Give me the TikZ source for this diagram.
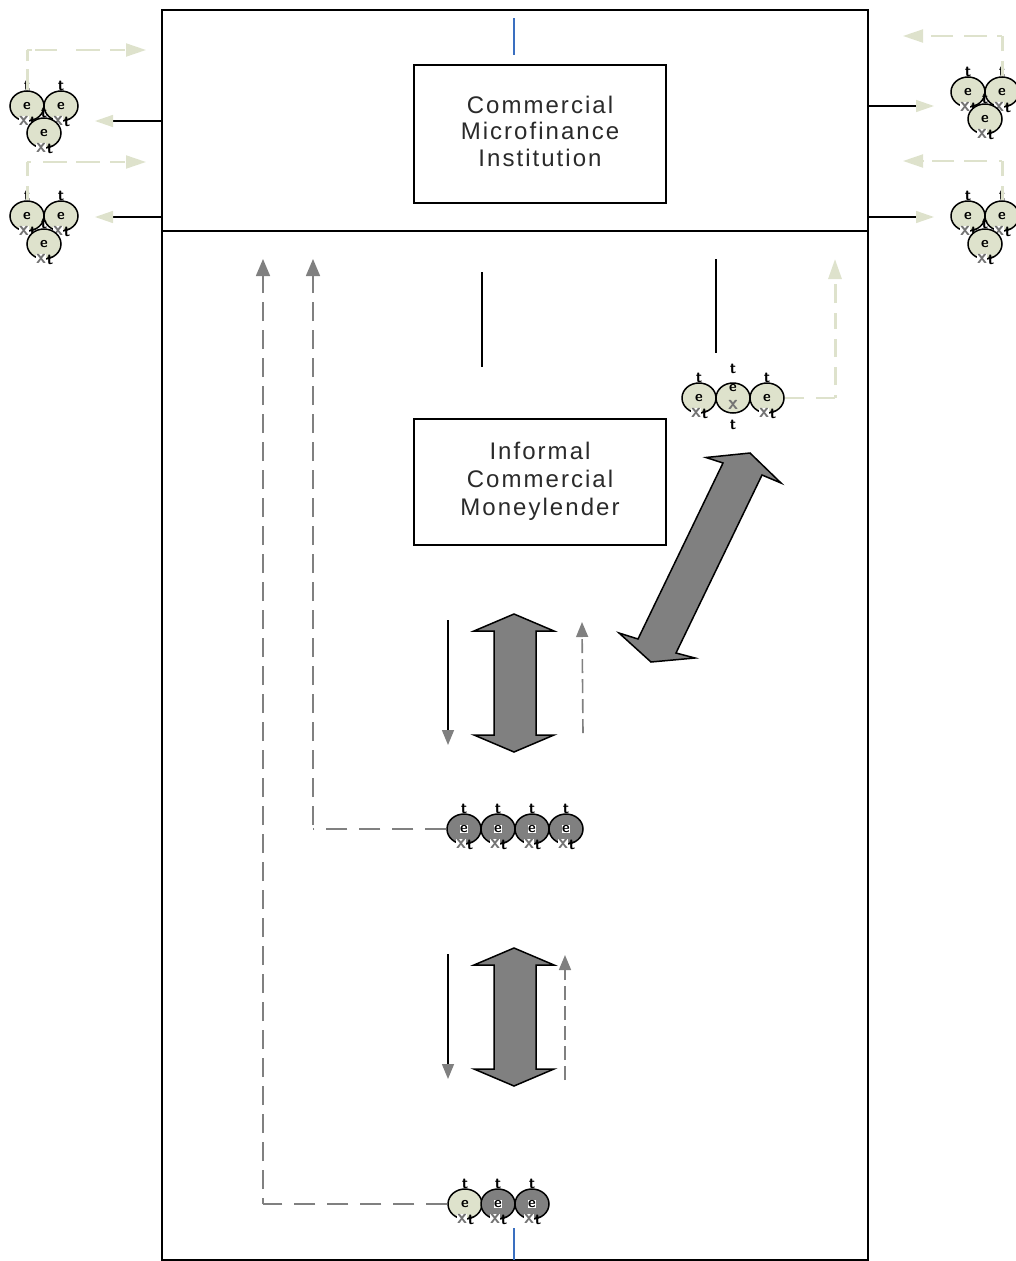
\documentclass[tikz,border=0pt]{standalone}
\usepackage{fontspec}
\setmainfont{Liberation Sans}
\newfontfamily\boxfont[LetterSpace=8.5]{Liberation Sans}
\usetikzlibrary{arrows.meta,shapes.geometric,calc}
\definecolor{pale}{HTML}{DEE2CC}
\definecolor{midgray}{HTML}{808080}
\definecolor{blueline}{HTML}{3A6FC0}
\definecolor{boxtext}{HTML}{2A2A2A}
\tikzset{
  x=1pt,y=-1pt,
  framebox/.style={draw=black,line width=1.7pt,fill=none,minimum width=706pt,anchor=north west,inner sep=0,outer sep=0},
  labelbox/.style={draw=black,line width=1.5pt,fill=white,inner sep=0},
  labeltext/.style={inner sep=0,align=center,text=boxtext,font=\boxfont\fontsize{24}{#1}\selectfont},
  wire/.style={draw=black,line width=1.5pt},
  palehead/.style={-{Triangle[length=18pt,width=12pt,color=pale]}},
  grayhead/.style={-{Triangle[length=15pt,width=12pt,color=midgray]}},
  palev/.style={draw=pale,line width=3pt},
  paleh/.style={draw=pale,line width=2pt},
  palearrow/.style={-{Triangle[length=20pt,width=13pt,color=pale]}},
  grayv/.style={draw=midgray,line width=1.6pt,dash pattern=on 19pt off 9pt,-{Triangle[length=17pt,width=14pt,color=midgray]}},
  grayh/.style={draw=midgray,line width=1.6pt,dash pattern=on 21pt off 12pt},
  grayshort/.style={draw=midgray,line width=1.6pt,dash pattern=on 14pt off 6pt,-{Triangle[length=15pt,width=12pt,color=midgray]}},
  blue/.style={draw=blueline,line width=1.2pt},
  person/.style={draw=black,line width=1.5pt,ellipse,minimum width=34pt,minimum height=30pt,inner sep=0,font=\sffamily\bfseries\fontsize{15}{15}\selectfont},
  glyph/.style={inner sep=0,font=\sffamily\bfseries\fontsize{16}{16}\selectfont},
  glyphx/.style={inner sep=0,text=black!55,fill=white,font=\sffamily\bfseries\fontsize{20}{20}\selectfont},
  bigarrow/.style={draw=black,line width=1.5pt,fill=midgray,line join=miter},
}
\newcommand{\agentbase}[5]{%
  \node[glyph] at ($(#2,#3)+(0,-20)$) {t};
  \node[person,fill=#4] (#1) at (#2,#3) {#5};
  \node[glyphx] at ($(#2,#3)+(-3,15)$) {x};
  \node[glyph] at ($(#2,#3)+(6,16)$) {t};
}
\newcommand{\agent}[4]{\agentbase{#1}{#2}{#3}{#4}{e}}
\newcommand{\darkagent}[3]{\agentbase{#1}{#2}{#3}{midgray}{\setlength{\fboxsep}{0pt}\colorbox{white}{e}}}
\newcommand{\vbig}[1]{%
  \draw[bigarrow,shift={(514,#1)}] (0,1) -- (40,18) -- (22,18) -- (22,122) -- (40,122) -- (0,139) -- (-40,122) -- (-20,122) -- (-20,18) -- (-40,18) -- cycle;
}
\begin{document}
\begin{tikzpicture}
\useasboundingbox (0,0) rectangle (1016,1261);
% frame
\node[framebox,minimum height=221pt] (upper) at (162,10) {};
\node[framebox,minimum height=1029pt] (lower) at (162,231) {};
% blue ticks
\coordinate (bt1) at (514,18); \coordinate (bt2) at (514,55);
\coordinate (bb1) at (514,1228); \coordinate (bb2) at (514,1260);
\draw[blue] (bt1) -- (bt2);
\draw[blue] (bb1) -- (bb2);
% boxes
\node[labelbox,minimum width=252pt,minimum height=138pt,label={[labeltext=26.5,yshift=3pt]center:Commercial\\Microfinance\\Institution}] (cmi) at (540,134) {};
\node[labelbox,minimum width=252pt,minimum height=126pt,label={[labeltext=28,yshift=1pt]center:Informal\\Commercial\\Moneylender}] (icm) at (540,482) {};
% left groups
\agent{la}{27}{106}{pale} \agent{lb}{61}{106}{pale} \agent{lc}{44}{133}{pale}
\agent{ld}{27}{216}{pale} \agent{le}{61}{216}{pale} \agent{lf}{44}{244}{pale}
% right groups
\agent{ra}{968}{92}{pale} \agent{rb}{1002}{92}{pale} \agent{rc}{985}{119}{pale}
\agent{rd}{968}{216}{pale} \agent{re}{1002}{216}{pale} \agent{rf}{985}{244}{pale}
% middle group
\agent{ma}{699}{398}{pale}
\node[glyph] at (733,369) {t};
\node[glyph] at (733,425) {t};
\node[person,fill=pale] (mb) at (733,398) {};
\node[glyph,font=\sffamily\bfseries\fontsize{15}{15}\selectfont] at (733,388) {e};
\node[glyphx,fill=none] at (733,405) {x};
\agent{mc}{767}{398}{pale}
% dark rows
\darkagent{da}{464}{829} \darkagent{db}{498}{829} \darkagent{dc}{532}{829} \darkagent{dd}{566}{829}
\agent{ea}{465}{1204}{pale} \darkagent{eb}{498}{1204} \darkagent{ec}{532}{1204}
% solid pale-headed connectors
\coordinate (w1) at (95,121); \coordinate (w2) at (95,217);
\coordinate (w3) at (934,106); \coordinate (w4) at (934,217);
\draw[wire,palehead] (upper.west |- w1) -- (w1);
\draw[wire,palehead] (upper.west |- w2) -- (w2);
\draw[wire,palehead] (upper.east |- w3) -- (w3);
\draw[wire,palehead] (upper.east |- w4) -- (w4);
% pale dashed feedback
\coordinate (ca) at (27,50);   \coordinate (pa) at (146,50);
\coordinate (cb) at (27,162);  \coordinate (pb) at (146,162);
\coordinate (cc) at (1002,36); \coordinate (pc) at (903,36);
\coordinate (cd) at (1002,161);\coordinate (pd) at (903,161);
\coordinate (ce) at (835,398); \coordinate (pe) at (835,259);
\draw[palev,dash pattern=on 21pt off 8pt on 99pt off 9pt] (la.north) -- (ca);
\draw[paleh,palearrow,dash pattern=on 5pt off 3pt on 22pt off 19pt on 24pt off 10pt on 15pt off 99pt] (ca) -- (pa);
\draw[palev,dash pattern=on 14pt off 10pt on 99pt off 9pt] (ld.north) -- (cb);
\draw[paleh,palearrow,dash pattern=on 4pt off 12pt on 24pt off 9pt on 24pt off 10pt on 15pt off 99pt] (cb) -- (pb);
\draw[palev,dash pattern=on 15pt off 10pt on 99pt off 9pt] (rb.north) -- (cc);
\draw[paleh,palearrow,dash pattern=on 5pt off 10pt on 23pt off 11pt on 22pt off 9pt on 9pt off 99pt] (cc) -- (pc);
\draw[palev,dash pattern=on 14pt off 10pt on 99pt off 9pt] (re.north) -- (cd);
\draw[paleh,palearrow,dash pattern=on 3pt off 12pt on 23pt off 10pt on 22pt off 9pt on 9pt off 99pt] (cd) -- (pd);
\draw[paleh,dash pattern=on 19pt off 12pt on 19pt off 9pt] (mc.east) -- (ce);
\draw[palev,palearrow,dash pattern=on 3pt off 10pt on 18pt off 10pt on 18pt off 10pt on 16pt off 10pt on 19pt off 99pt] (ce) -- (pe);
% plain black stubs
\coordinate (s1) at (482,272); \coordinate (s2) at (482,367);
\coordinate (s3) at (716,259); \coordinate (s4) at (716,353);
\draw[wire] (s1) -- (s2);
\draw[wire] (s3) -- (s4);
% big arrows
\vbig{613}
\vbig{947}
\draw[bigarrow] (750,453) -- (781,483) -- (762,475) -- (676,653) -- (695,658) -- (651,662) -- (619,633) -- (638,639) -- (723,463) -- (706,457.5) -- cycle;
% small arrows
\coordinate (f1) at (448,620); \coordinate (f2) at (448,745);
\coordinate (f3) at (448,954); \coordinate (f4) at (448,1079);
\draw[wire,grayhead] (f1) -- (f2);
\draw[wire,grayhead] (f3) -- (f4);
\coordinate (g1) at (583,733); \coordinate (g2) at (582,622);
\coordinate (g3) at (565,1080); \coordinate (g4) at (565,955);
\draw[grayshort] (g1) -- (g2);
\draw[grayshort] (g3) -- (g4);
% long gray dashed
\coordinate (h1) at (313,259); \coordinate (h2) at (263,259);
\coordinate (k1) at (313,829); \coordinate (k2) at (263,1204);
\draw[grayh] (da.west) -- (k1);
\draw[grayv,dash phase=24pt] (k1) -- (h1);
\draw[grayh] (ea.west) -- (k2);
\draw[grayv,dash phase=13pt] (k2) -- (h2);
\end{tikzpicture}
\end{document}
